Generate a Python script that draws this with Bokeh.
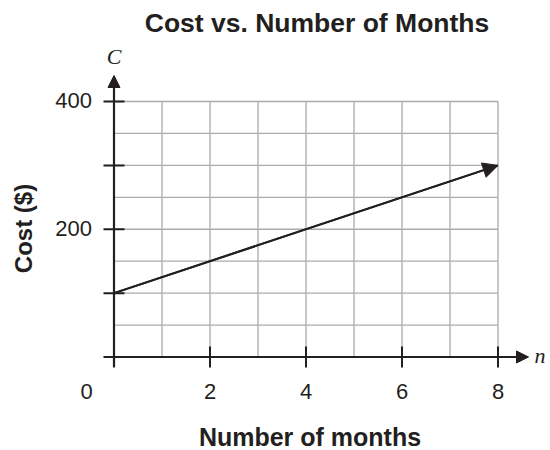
from bokeh.plotting import figure
from bokeh.models import Range1d, Arrow, NormalHead
from bokeh.core.properties import value
from bokeh.embed import file_html
from bokeh.resources import INLINE

# ---- data ----
months = [0, 8]
cost = [100, 300]
x_tick_values = [0, 2, 4, 6, 8]
x_tick_labels = ["0", "2", "4", "6", "8"]
y_tick_values = [100, 200, 300, 400]
y_label_values = [200, 400]
y_label_texts = ["200", "400"]
x_grid = [1, 2, 3, 4, 5, 6, 7, 8]
y_grid = [50, 100, 150, 200, 250, 300, 350, 400]
title_text = "Cost vs. Number of Months"
x_title = "Number of months"
y_title = "Cost ($)"

# ---- layout (pixels on the canvas) ----
W, H = 550, 450
PX0, PX_UNIT = 113.5, 48.0        # canvas x of n=0, pixels per month
PY0, PY_UNIT = 356.5, 0.63875     # canvas y of C=0, pixels per dollar

def dx(px):
    return (px - PX0) / PX_UNIT

def dy(py):
    return (PY0 - py) / PY_UNIT

INK = "#231f20"
GRID = "#a9abae"
FONT = value("Liberation Sans")
SERIF = value("Liberation Serif")

p = figure(width=W, height=H, output_backend="svg", toolbar_location=None,
           x_axis_type=None, y_axis_type=None,
           x_range=Range1d(dx(0), dx(W)), y_range=Range1d(dy(H), dy(0)),
           min_border=0, outline_line_color=None)
p.title.visible = False
p.xgrid.visible = False
p.ygrid.visible = False
p.background_fill_color = "white"
p.border_fill_color = "white"

# grid
xmax = x_grid[-1]
ymax = y_grid[-1]
p.segment(x0=x_grid, y0=[0] * len(x_grid), x1=x_grid, y1=[ymax] * len(x_grid),
          line_color=GRID, line_width=1.3)
p.segment(x0=[0] * len(y_grid), y0=y_grid, x1=[xmax] * len(y_grid), y1=y_grid,
          line_color=GRID, line_width=1.3)

TICK_HALF = 10.5  # px
# axes with arrowheads
p.add_layout(Arrow(x_start=0, y_start=-TICK_HALF / PY_UNIT, x_end=0, y_end=dy(75),
                   line_color=INK, line_width=2.2,
                   end=NormalHead(size=12, fill_color=INK, line_color=INK)))
p.add_layout(Arrow(x_start=-TICK_HALF / PX_UNIT, y_start=0, x_end=dx(528), y_end=0,
                   line_color=INK, line_width=2.2,
                   end=NormalHead(size=12, fill_color=INK, line_color=INK)))

# tick marks crossing the axes
p.scatter(x=[0] * len(y_tick_values), y=y_tick_values, marker="dash",
          size=2 * TICK_HALF, line_color=INK, line_width=2)
xt = [v for v in x_tick_values if v != 0]
p.scatter(x=xt, y=[0] * len(xt), marker="dash", angle=1.5707963,
          size=2 * TICK_HALF, line_color=INK, line_width=2)

# data line
p.line(x=months, y=cost, line_color=INK, line_width=2)
p.add_layout(Arrow(x_start=months[0], y_start=cost[0], x_end=months[-1], y_end=cost[-1],
                   line_color=INK, line_width=2,
                   end=NormalHead(size=15, fill_color=INK, line_color=INK)))

# tick labels
xoffs = [-27.5 if v == 0 else 0 for v in x_tick_values]
p.text(x=x_tick_values, y=[0] * len(x_tick_values), text=x_tick_labels,
       x_offset=xoffs, y_offset=[34] * len(x_tick_values),
       text_font=FONT, text_font_size="22px", text_color=INK,
       text_align="center", text_baseline="middle")
p.text(x=[0] * len(y_label_values), y=y_label_values, text=y_label_texts,
       x_offset=-22, y_offset=-1, text_font=FONT, text_font_size="22px", text_color=INK,
       text_align="right", text_baseline="middle")

# axis variable names
p.text(x=[0], y=[dy(56)], text=["C"], text_font=SERIF, text_font_style="italic",
       text_font_size="22px", text_color=INK, text_align="center", text_baseline="middle")
p.text(x=[dx(534)], y=[dy(355)], text=["n"], text_font=SERIF, text_font_style="italic",
       text_font_size="22px", text_color=INK, text_align="left", text_baseline="middle")

# titles
p.text(x=[dx(316.5)], y=[dy(22)], text=[title_text], text_font=FONT, text_font_style="bold",
       text_font_size="26.5px", text_color=INK, text_align="center", text_baseline="middle")
p.text(x=[dx(309.5)], y=[dy(436.5)], text=[x_title], text_font=FONT, text_font_style="bold",
       text_font_size="25px", text_color=INK, text_align="center", text_baseline="middle")
p.text(x=[dx(23)], y=[dy(228)], text=[y_title], text_font=FONT, text_font_style="bold",
       text_font_size="24px", text_color=INK, text_align="center", text_baseline="middle",
       angle=1.5707963)

open("out.html", "w").write(file_html(p, INLINE))
